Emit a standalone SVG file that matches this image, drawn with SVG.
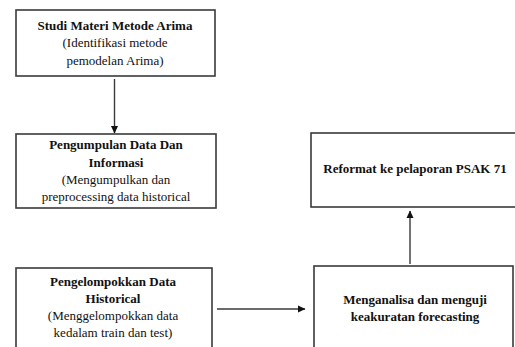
<svg xmlns="http://www.w3.org/2000/svg" width="515" height="347" viewBox="0 0 515 347">
<style>
.box{fill:#fff;stroke:#3a3a3a;stroke-width:1.6}
.t{font-family:"Liberation Serif","Times New Roman",serif;font-size:13px;fill:#111;text-anchor:middle}
.b{font-weight:bold}
.c{stroke:#3a3a3a;stroke-width:1.4;fill:none;marker-end:url(#ah)}
</style>
<defs>
<marker id="ah" markerWidth="8" markerHeight="8" refX="7" refY="4" orient="auto" markerUnits="userSpaceOnUse">
<path d="M0,0.5 L7.5,4 L0,7.5 Z" fill="#111"/>
</marker>
</defs>
<rect width="515" height="347" fill="#fff"/>
<g id="connectors">
<line class="c" x1="114.5" y1="79" x2="114.5" y2="133"/>
<line class="c" x1="217" y1="309" x2="305" y2="309"/>
<line class="c" x1="410" y1="264" x2="410" y2="211"/>
</g>
<g id="n1">
<rect class="box" x="16" y="10" width="199" height="66"/>
<text class="t b" x="115" y="30">Studi Materi Metode Arima</text>
<text class="t" x="115" y="47">(Identifikasi metode</text>
<text class="t" x="115" y="65">pemodelan Arima)</text>
</g>
<g id="n2">
<rect class="box" x="16" y="134" width="200" height="74"/>
<text class="t b" x="116" y="149">Pengumpulan Data Dan</text>
<text class="t b" x="116" y="167">Informasi</text>
<text class="t" x="116" y="184">(Mengumpulkan dan</text>
<text class="t" x="116" y="201">preprocessing data historical</text>
</g>
<g id="n3">
<rect class="box" x="16" y="268" width="196" height="90"/>
<text class="t b" x="113" y="286">Pengelompokkan Data</text>
<text class="t b" x="113" y="303">Historical</text>
<text class="t" x="113" y="320">(Menggelompokkan data</text>
<text class="t" x="113" y="337">kedalam train dan test)</text>
</g>
<g id="n4">
<rect class="box" x="314" y="266" width="199" height="92"/>
<text class="t b" x="415" y="304">Menganalisa dan menguji</text>
<text class="t b" x="415" y="321">keakuratan forecasting</text>
</g>
<g id="n5">
<rect class="box" x="311" y="133" width="215" height="74"/>
<text class="t b" x="415" y="173">Reformat ke pelaporan PSAK 71</text>
</g>
</svg>
